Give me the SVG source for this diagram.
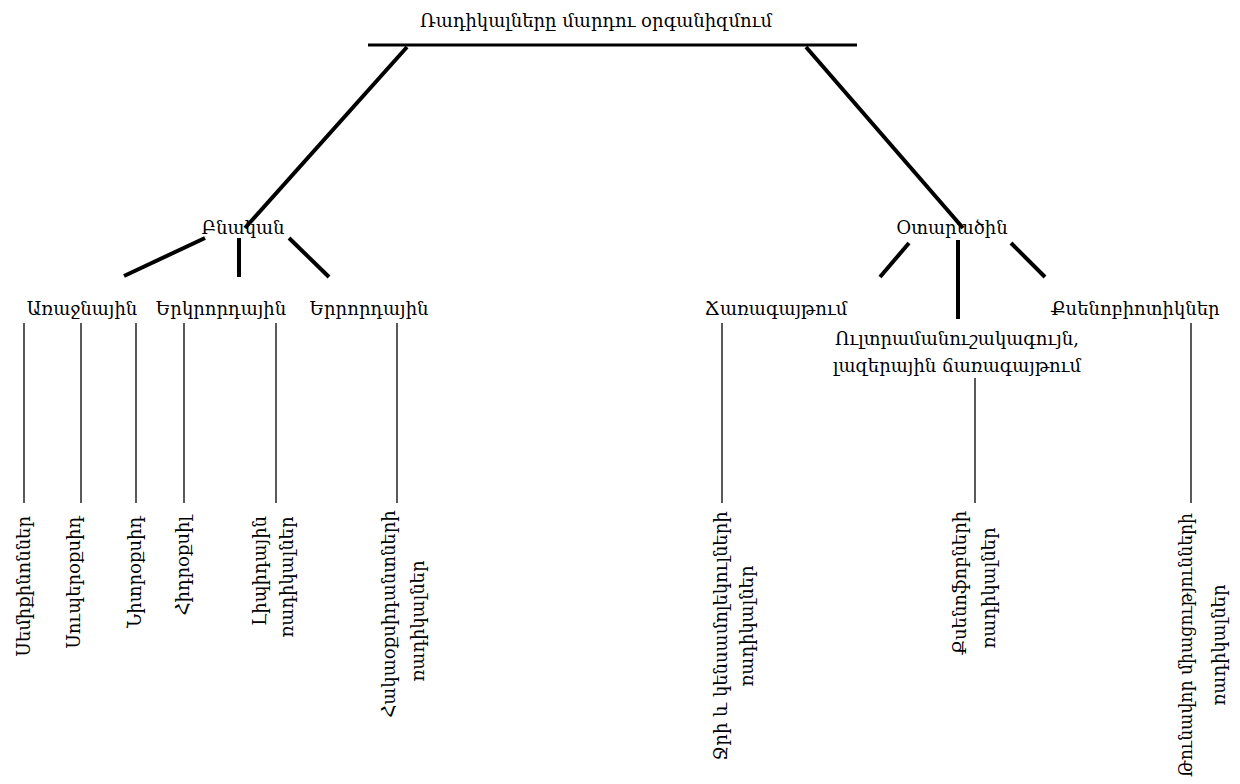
<svg xmlns="http://www.w3.org/2000/svg" width="1240" height="784" viewBox="0 0 1240 784">
<style>
text{font-family:"DejaVu Serif","Liberation Serif","Noto Sans",serif;font-size:18px;fill:#000}
.c{text-anchor:middle}
.e{text-anchor:end}
.thick{stroke:#000;stroke-width:4;fill:none}
.mid{stroke:#000;stroke-width:3;fill:none}
.thin{stroke:#000;stroke-width:1.3;fill:none}
</style>
<rect width="1240" height="784" fill="#fff"/>
<g id="connectors">
<line class="mid" x1="368" y1="45" x2="857" y2="45"/>
<line class="thick" x1="407" y1="47" x2="245" y2="228"/>
<line class="thick" x1="806" y1="47" x2="963" y2="228"/>
<line class="thick" x1="205" y1="238" x2="124" y2="276"/>
<line class="thick" x1="239" y1="238" x2="239" y2="277"/>
<line class="thick" x1="289" y1="238" x2="329" y2="277"/>
<line class="thick" x1="909" y1="243" x2="880" y2="277"/>
<line class="thick" x1="958" y1="240" x2="958" y2="319"/>
<line class="thick" x1="1011" y1="243" x2="1045" y2="277"/>
<line class="thin" x1="24" y1="323" x2="24" y2="503"/>
<line class="thin" x1="81" y1="323" x2="81" y2="503"/>
<line class="thin" x1="136" y1="323" x2="136" y2="503"/>
<line class="thin" x1="184" y1="323" x2="184" y2="503"/>
<line class="thin" x1="276" y1="323" x2="276" y2="503"/>
<line class="thin" x1="397" y1="323" x2="397" y2="503"/>
<line class="thin" x1="722" y1="323" x2="722" y2="503"/>
<line class="thin" x1="975" y1="378" x2="975" y2="503"/>
<line class="thin" x1="1191" y1="323" x2="1191" y2="503"/>
</g>
<g id="root"><text class="c" x="596" y="27">Ռադիկալները մարդու օրգանիզմում</text></g>
<g id="natural"><text class="c" x="243" y="234">Բնական</text></g>
<g id="foreign"><text class="c" x="952" y="234">Օտարածին</text></g>
<g id="primary"><text class="c" x="82" y="315">Առաջնային</text></g>
<g id="secondary"><text class="c" x="221" y="315">Երկրորդային</text></g>
<g id="tertiary"><text class="c" x="369" y="315">Երրորդային</text></g>
<g id="radiation"><text class="c" x="776" y="315">Ճառագայթում</text></g>
<g id="uv"><text class="c" x="957" y="345">Ուլտրամանուշակագույն,</text><text class="c" x="957" y="372">լազերային ճառագայթում</text></g>
<g id="xeno"><text class="c" x="1135" y="315">Քսենոբիոտիկներ</text></g>
<g id="semiquinones"><text class="e" transform="translate(30,516) rotate(-90)">Սեմիքինոններ</text></g>
<g id="superoxide"><text class="e" transform="translate(80,516) rotate(-90)">Սուպերօքսիդ</text></g>
<g id="nitroxide"><text class="e" transform="translate(141,516) rotate(-90)">Նիտրօքսիդ</text></g>
<g id="hydroxyl"><text class="e" transform="translate(189,516) rotate(-90)">Հիդրօքսիլ</text></g>
<g id="lipid"><text class="c" transform="translate(266,571) rotate(-90)">Լիպիդային</text><text class="c" transform="translate(293,577) rotate(-90)">ռադիկալներ</text></g>
<g id="antioxidant"><text class="c" transform="translate(395,614) rotate(-90)">Հակաօքսիդանտների</text><text class="c" transform="translate(424,621) rotate(-90)">ռադիկալներ</text></g>
<g id="water"><text class="c" transform="translate(727,636) rotate(-90)">Ջրի և կենսամոլեկուլների</text><text class="c" transform="translate(753,626) rotate(-90)">ռադիկալներ</text></g>
<g id="xenophobes"><text class="c" transform="translate(966,583) rotate(-90)">Քսենոֆոբների</text><text class="c" transform="translate(995,588) rotate(-90)">ռադիկալներ</text></g>
<g id="toxic"><text class="c" transform="translate(1192,645) rotate(-90)" textLength="264" lengthAdjust="spacingAndGlyphs">Թունավոր միացությունների</text><text class="c" transform="translate(1225,645) rotate(-90)">ռադիկալներ</text></g>
</svg>
